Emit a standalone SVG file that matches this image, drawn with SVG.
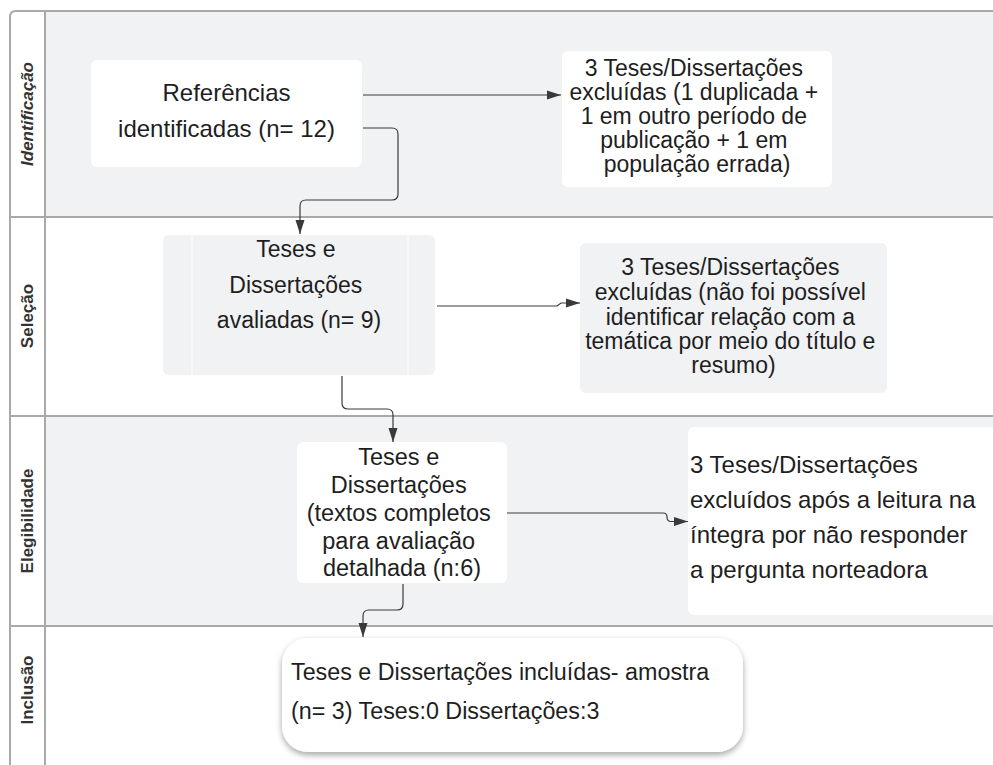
<svg xmlns="http://www.w3.org/2000/svg" width="993" height="765" viewBox="0 0 993 765">
  <style>
    .lane-fill { fill: #f1f2f4; }
    .frame { fill: none; stroke: #a9a9a9; stroke-width: 2; }
    .lane-label { font-family: "Liberation Sans", Arial, sans-serif; font-size: 17px; font-weight: bold; fill: #333333; text-anchor: middle; }
    .box-white { fill: #ffffff; }
    .box-gray { fill: #f1f2f4; }
    .t { font-family: "Liberation Sans", Arial, sans-serif; fill: #1e1e1e; }
    .c { text-anchor: middle; }
    .edge { fill: none; stroke: #3a3a3a; stroke-width: 1.2; marker-end: url(#arrow); }
  </style>
  <defs>
    <marker id="arrow" markerUnits="userSpaceOnUse" markerWidth="14" markerHeight="10" refX="14" refY="5" orient="auto">
      <path d="M0,0.5 L14,5 L0,9.5 Z" fill="#3a3a3a"/>
    </marker>
    <filter id="shadow" x="-10%" y="-20%" width="120%" height="150%">
      <feDropShadow dx="0" dy="3" stdDeviation="3" flood-color="#000000" flood-opacity="0.35"/>
    </filter>
  </defs>

  <!-- swimlane background -->
  <rect x="0" y="0" width="993" height="765" fill="#ffffff"/>
  <g id="lanes">
    <rect class="lane-fill" x="45" y="11" width="948" height="206"/>
    <rect class="lane-fill" x="45" y="416" width="948" height="210"/>
    <path class="frame" d="M10,765 V17 Q10,11 16,11 H993"/>
    <line class="frame" x1="45" y1="11" x2="45" y2="765"/>
    <line class="frame" x1="10" y1="217" x2="993" y2="217"/>
    <line class="frame" x1="10" y1="416" x2="993" y2="416"/>
    <line class="frame" x1="10" y1="626" x2="993" y2="626"/>
    <text class="lane-label" font-style="italic" transform="translate(33,114) rotate(-90)">Identificação</text>
    <text class="lane-label" transform="translate(33,316) rotate(-90)">Seleção</text>
    <text class="lane-label" transform="translate(33,521) rotate(-90)">Elegibilidade</text>
    <text class="lane-label" transform="translate(33,690) rotate(-90)">Inclusão</text>
  </g>

  <!-- connectors -->
  <g id="connectors">
    <path class="edge" d="M363,95 H561"/>
    <path class="edge" d="M363,128 H392 Q398,128 398,134 V194 Q398,200 392,200 H306 Q300,200 300,206 V234"/>
    <path class="edge" d="M437,306 H557 L561,303 H580"/>
    <path class="edge" d="M342,376 V403 Q342,409 348,409 H387 Q393,409 393,415 V442"/>
    <path class="edge" d="M507,513 H663 Q667,513 667,517 Q667,521.5 671,521.5 H688"/>
    <path class="edge" d="M403,584 V604 Q403,610 397,610 H369 Q363,610 363,616 V637"/>
  </g>

  <!-- identification -->
  <g id="node-referencias">
    <rect class="box-white" x="91" y="60" width="271" height="107" rx="6"/>
    <text class="t c" font-size="24" x="226.5" y="101">Referências</text>
    <text class="t c" font-size="24" x="226.5" y="137">identificadas (n= 12)</text>
  </g>

  <g id="node-excluidas-1">
    <rect class="box-white" x="562" y="51" width="270" height="136" rx="6"/>
    <text class="t c" font-size="23" x="697">
      <tspan x="697" y="76">3 Teses/Dissertações</tspan>
      <tspan x="697" y="100">excluídas (1 duplicada +</tspan>
      <tspan x="697" y="124">1 em outro período de</tspan>
      <tspan x="697" y="148">publicação + 1 em</tspan>
      <tspan x="697" y="172">população errada)</tspan>
    </text>
  </g>

  <!-- selection -->
  <g id="node-avaliadas">
    <rect class="box-gray" x="163" y="235" width="272" height="140" rx="6"/>
    <line x1="192" y1="235" x2="192" y2="375" stroke="#ffffff" stroke-width="1"/>
    <line x1="408" y1="235" x2="408" y2="375" stroke="#ffffff" stroke-width="1"/>
    <text class="t c" font-size="23" x="299">
      <tspan x="299" y="257">Teses e</tspan>
      <tspan x="299" y="293">Dissertações</tspan>
      <tspan x="299" y="328">avaliadas (n= 9)</tspan>
    </text>
  </g>

  <g id="node-excluidas-2">
    <rect class="box-gray" x="580" y="243" width="307" height="150" rx="6"/>
    <text class="t c" font-size="23" x="733.5">
      <tspan x="733.5" y="275">3 Teses/Dissertações</tspan>
      <tspan x="733.5" y="300">excluídas (não foi possível</tspan>
      <tspan x="733.5" y="325">identificar relação com a</tspan>
      <tspan x="733.5" y="349">temática por meio do título e</tspan>
      <tspan x="733.5" y="373">resumo)</tspan>
    </text>
  </g>

  <!-- eligibility -->
  <g id="node-textos-completos">
    <rect class="box-white" x="297" y="442" width="210" height="141" rx="6"/>
    <text class="t c" font-size="23.5" x="402">
      <tspan x="402" y="465">Teses e</tspan>
      <tspan x="402" y="493">Dissertações</tspan>
      <tspan x="402" y="521">(textos completos</tspan>
      <tspan x="402" y="549">para avaliação</tspan>
      <tspan x="402" y="576">detalhada (n:6)</tspan>
    </text>
  </g>

  <g id="node-excluidos-3">
    <rect class="box-white" x="688" y="427" width="320" height="188" rx="6"/>
    <text class="t" font-size="24" x="690">
      <tspan x="690" y="473">3 Teses/Dissertações</tspan>
      <tspan x="690" y="508">excluídos após a leitura na</tspan>
      <tspan x="690" y="543">íntegra por não responder</tspan>
      <tspan x="690" y="578">a pergunta norteadora</tspan>
    </text>
  </g>

  <!-- inclusion -->
  <g id="node-incluidas">
    <rect class="box-white" x="282" y="638" width="461" height="114" rx="26" filter="url(#shadow)"/>
    <text class="t" font-size="23.3" x="291">
      <tspan x="291" y="680">Teses e Dissertações incluídas- amostra</tspan>
      <tspan x="291" y="719">(n= 3) Teses:0 Dissertações:3</tspan>
    </text>
  </g>
</svg>
